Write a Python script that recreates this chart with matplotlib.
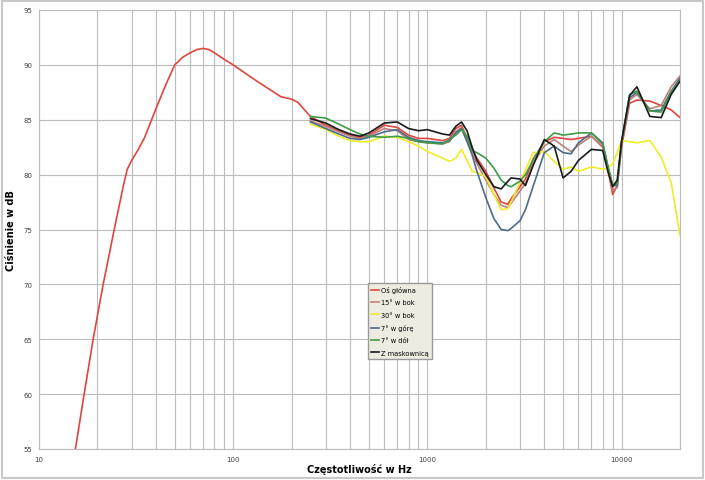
import matplotlib
matplotlib.use("Agg")
import matplotlib.pyplot as plt
from matplotlib.patches import Rectangle
from matplotlib.ticker import FixedLocator, NullFormatter

# low-frequency part of the main axis curve (Hz, dB)
low_f = [15.4, 16.9, 19.0, 21.4, 24.4, 27.2, 28.5, 30, 32.5, 35, 40, 45, 50, 55, 60,
         65, 70, 75, 80, 90, 100, 123, 144, 176, 198, 215]
low_db = [55.0, 59.5, 65.0, 70.0, 75.0, 79.0, 80.5, 81.3, 82.3, 83.4, 86.0, 88.2,
          90.0, 90.7, 91.1, 91.4, 91.5, 91.4, 91.1, 90.5, 90.0, 88.9, 88.1, 87.1,
          86.9, 86.6]

# common frequency grid for the measured range
freq = [250, 300, 350, 400, 450, 500, 600, 700, 800, 900, 1000, 1200, 1300, 1400,
        1500, 1600, 1700, 1800, 2000, 2200, 2400, 2600, 2700, 3000, 3200, 3500,
        4000, 4500, 5000, 5500, 6000, 7000, 8000, 8500, 9000, 9500, 10000, 11000,
        12000, 14000, 16000, 18000, 20000]

os_glowna = [85.3, 84.5, 84.0, 83.6, 83.4, 83.6, 84.5, 84.3, 83.6, 83.3, 83.3, 83.1,
             83.3, 84.2, 84.5, 83.3, 82.3, 81.5, 80.3, 78.8, 77.5, 77.3, 77.8, 78.9,
             79.6, 81.4, 83.0, 83.4, 83.3, 83.2, 83.3, 83.5, 82.5, 80.5, 78.2, 79.0,
             82.5, 86.5, 86.8, 86.7, 86.3, 85.9, 85.2]
bok15 = [84.9, 84.4, 83.9, 83.5, 83.3, 83.5, 84.2, 84.0, 83.2, 83.0, 82.9, 82.8,
         83.0, 83.9, 84.3, 83.2, 82.0, 81.0, 79.5, 78.2, 77.2, 77.0, 77.4, 78.5,
         79.2, 81.0, 82.6, 83.2, 82.6, 82.1, 82.7, 83.5, 82.6, 80.5, 78.6, 78.8,
         82.8, 86.8, 87.3, 86.0, 86.3, 88.0, 89.0]
bok30 = [84.6, 84.1, 83.5, 83.1, 83.0, 83.0, 83.5, 83.4, 83.0, 82.6, 82.1, 81.5,
         81.2, 81.5, 82.3, 81.3, 80.3, 80.2, 79.8, 78.2, 76.8, 76.9, 77.5, 79.3,
         80.4, 82.0, 82.1, 81.2, 80.5, 80.7, 80.3, 80.7, 80.5, 80.6, 81.0, 82.0,
         83.1, 83.0, 82.9, 83.1, 81.6, 79.3, 74.5]
gora7 = [84.8, 84.2, 83.7, 83.3, 83.2, 83.4, 83.9, 84.1, 83.4, 83.1, 83.0, 82.9,
         83.1, 83.8, 84.2, 83.0, 81.8, 80.3, 77.9, 76.0, 75.0, 74.9, 75.1, 75.8,
         76.8, 78.9, 82.0, 82.6, 82.0, 81.9, 82.9, 83.8, 82.9, 80.8, 79.0, 79.0,
         83.0, 87.0, 87.5, 85.8, 85.9, 87.6, 88.8]
dol7 = [85.3, 85.15, 84.6, 84.1, 83.7, 83.5, 83.4, 83.5, 83.3, 83.0, 82.9, 82.8,
        83.2, 83.6, 84.1, 83.5, 82.2, 82.0, 81.5, 80.6, 79.5, 79.0, 78.9, 79.4,
        80.0, 81.3, 83.0, 83.8, 83.6, 83.7, 83.8, 83.8, 82.8, 80.8, 79.0, 79.2,
        83.0, 87.3, 87.6, 85.8, 85.7, 87.5, 88.6]
maskownica = [85.1, 84.7, 84.1, 83.7, 83.5, 83.8, 84.7, 84.8, 84.2, 84.0, 84.1, 83.7,
              83.6, 84.4, 84.8, 84.0, 82.5, 81.3, 80.0, 78.9, 78.7, 79.4, 79.7, 79.6,
              79.0, 80.8, 83.2, 82.6, 79.7, 80.3, 81.3, 82.3, 82.2, 80.3, 78.9, 79.5,
              83.0, 87.2, 88.0, 85.3, 85.2, 87.3, 88.5]

labels = ["Oś główna", "15° w bok", "30° w bok", "7° w górę", "7° w dół", "Z maskownicą"]
colors = ["#e0463e", "#c08078", "#eded2a", "#4c6c8c", "#3c9c48", "#1a1a1a"]

fig = plt.figure(figsize=(7.05, 4.81), dpi=100)
ax = fig.add_axes([39 / 705, 31 / 481, 641 / 705, 439 / 481])

series = [os_glowna, bok15, bok30, gora7, dol7, maskownica]
for i, (vals, lab, col) in enumerate(zip(series, labels, colors)):
    if i == 0:
        ax.plot(low_f + freq, low_db + vals, color=col, lw=1.2, label=lab)
    else:
        ax.plot(freq, vals, color=col, lw=1.2, label=lab)

ax.set_xscale("log")
ax.set_xlim(10, 20000)
ax.set_ylim(55, 95)
ax.set_yticks(range(55, 96, 5))
ax.xaxis.set_major_locator(FixedLocator([10, 100, 1000, 10000]))
minors = [m * d for d in (10, 100, 1000) for m in range(2, 10)] + [20000]
ax.xaxis.set_minor_locator(FixedLocator(minors))
ax.xaxis.set_minor_formatter(NullFormatter())
ax.set_xticklabels(["10", "100", "1000", "10000"])
ax.grid(True, which="both", color="#bcbcbc", lw=0.8)
ax.tick_params(which="both", length=0, pad=5, labelsize=5, labelcolor="#404040")
for s in ax.spines.values():
    s.set_color("#bcbcbc")
    s.set_linewidth(0.8)

ax.set_xlabel("Częstotliwość w Hz", fontsize=7, fontweight="bold", labelpad=1)
ax.set_ylabel("Ciśnienie w dB", fontsize=7, fontweight="bold", labelpad=5)

leg = ax.legend(loc="lower left", bbox_to_anchor=(0.513, 0.205), fontsize=4.8,
                frameon=True, fancybox=False, handlelength=1.2, handletextpad=0.3,
                labelspacing=0.95, borderpad=0.5, borderaxespad=0)
leg.get_frame().set_facecolor("#eeece0")
leg.get_frame().set_edgecolor("#9a9a9a")
leg.get_frame().set_alpha(1)

fig.patches.append(Rectangle((0.003, 0.005), 0.994, 0.99, transform=fig.transFigure,
                             fill=False, edgecolor="#c8c8c8", lw=1.5))

fig.savefig("out.png", dpi=100)
